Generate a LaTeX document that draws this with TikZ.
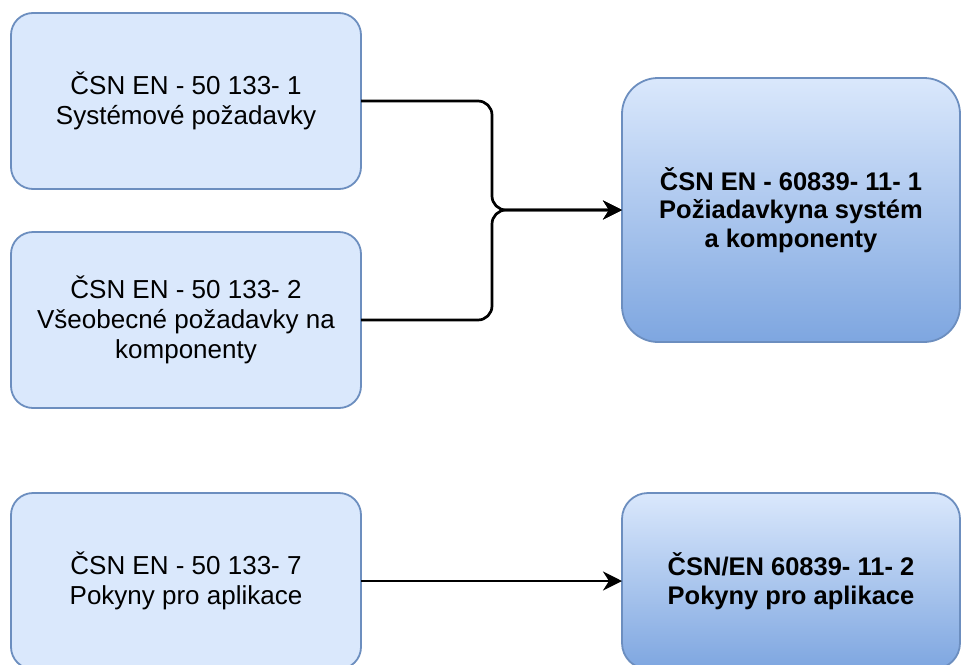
\documentclass[tikz,border=0pt]{standalone}
\usepackage{fontspec}
\setmainfont{Liberation Sans}
\usetikzlibrary{arrows.meta}
\definecolor{boxfill}{HTML}{DAE8FC}
\definecolor{boxline}{HTML}{6C8EBF}
\definecolor{gradlow}{HTML}{7EA6E0}
\begin{document}
\begin{tikzpicture}[x=1pt,y=-1pt,
  every node/.style={inner sep=0pt,outer sep=0pt},
  srcbox/.style={draw=boxline,line width=1.8pt,fill=boxfill,rounded corners=22pt,
    minimum width=350pt,align=center,
    font=\fontsize{26}{30}\selectfont},
  dstbox/.style={draw=boxline,line width=1.8pt,top color=boxfill,bottom color=gradlow,
    minimum width=338pt,align=center,
    font=\fontsize{25.5}{28.5}\selectfont\bfseries},
  link/.style={line width=2.7pt,rounded corners=14pt,
    -{Stealth[length=19pt,width=19pt,inset=6pt]}}]
\useasboundingbox (0,0) rectangle (961,664);
\clip (0,0) rectangle (961,664);
\fill[white] (0,0) rectangle (961,664);

% source standards (left column)
\node[srcbox,minimum height=176pt] (s1) at (186,101)
  {ČSN EN - 50 133- 1\\Systémové požadavky};
\node[srcbox,minimum height=176pt] (s2) at (186,320)
  {ČSN EN - 50 133- 2\\Všeobecné požadavky na\\komponenty};
\node[srcbox,minimum height=176pt] (s7) at (186,581)
  {ČSN EN - 50 133- 7\\Pokyny pro aplikace};

% target standards (right column)
\node[dstbox,rounded corners=36pt,minimum height=264pt] (t1) at (791,210)
  {ČSN EN - 60839- 11- 1\\Požiadavkyna systém\\a komponenty};
\node[dstbox,rounded corners=26pt,minimum height=176pt] (t2) at (791,581)
  {ČSN/EN 60839- 11- 2\\Pokyny pro aplikace};

% connectors: the two upper sources merge into one arrow
\coordinate (m) at (492,210);
\draw[link] (s1.east) -| (m) -- (t1.west);
\draw[link] (s2.east) -| (m) -- (t1.west);
\draw[link] (s7.east) -- (t2.west);
\end{tikzpicture}
\end{document}
